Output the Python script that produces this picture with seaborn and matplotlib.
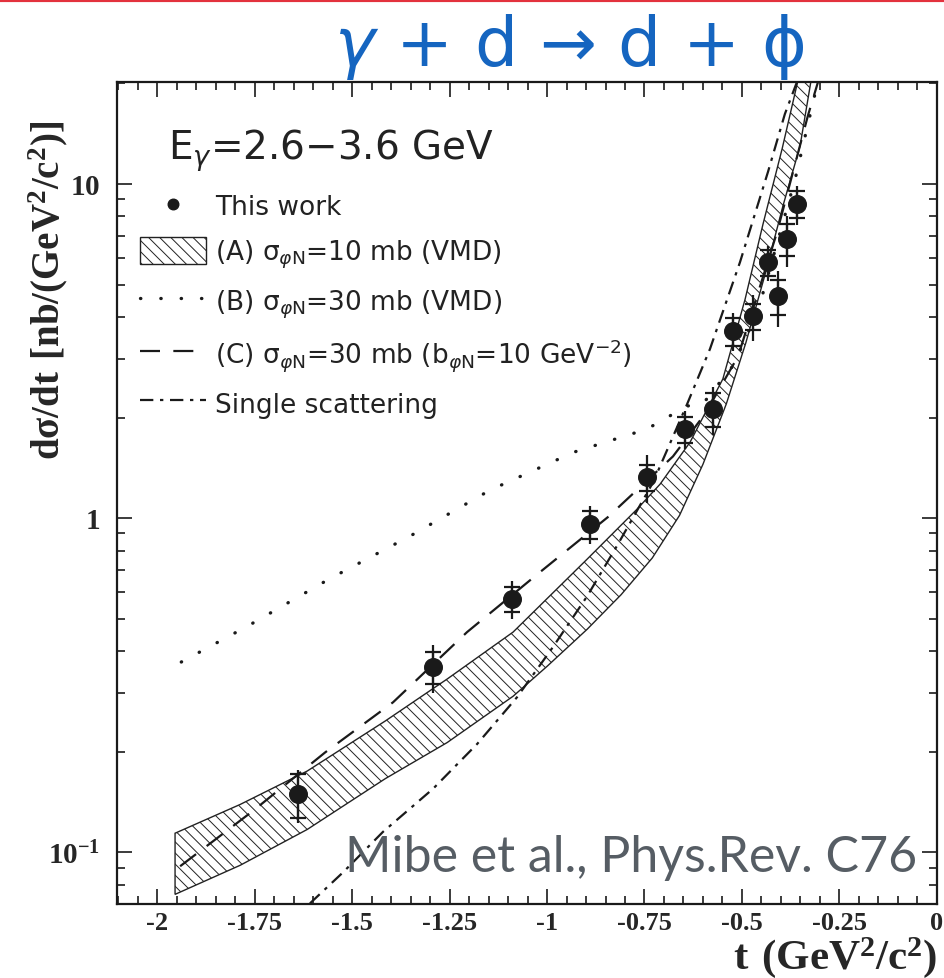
import numpy as np
import seaborn as sns
import matplotlib.pyplot as plt
from matplotlib.ticker import FixedLocator, FixedFormatter, LogLocator, NullFormatter

sns.set_theme(style="ticks")
plt.rcParams['font.family'] = ['Liberation Serif', 'DejaVu Sans']
plt.rcParams['mathtext.fontset'] = 'custom'
plt.rcParams['mathtext.bf'] = 'Liberation Serif:bold'
plt.rcParams['mathtext.rm'] = 'DejaVu Sans'
plt.rcParams['mathtext.it'] = 'DejaVu Sans:italic'
plt.rcParams['mathtext.sf'] = 'DejaVu Sans'
plt.rcParams['axes.unicode_minus'] = False
plt.rcParams['hatch.linewidth'] = 0.7

# measured points (this work)
t_data = [-1.638, -1.292, -1.090, -0.890, -0.744, -0.646, -0.574, -0.523, -0.472, -0.433, -0.408, -0.385, -0.359]
xs_data = [0.149, 0.358, 0.572, 0.960, 1.327, 1.847, 2.12, 3.63, 4.02, 5.84, 4.62, 6.85, 8.72]
err_stat = [0.15, 0.11, 0.085, 0.095, 0.09, 0.09, 0.115, 0.095, 0.09, 0.09, 0.12, 0.11, 0.09]
err_tot = [0.18, 0.165, 0.13, 0.13, 0.165, 0.13, 0.165, 0.13, 0.155, 0.12, 0.19, 0.175, 0.135]

# (A) band, upper and lower edges
band_up_t = [-1.954, -1.787, -1.615, -1.415, -1.256, -1.087, -0.897, -0.769, -0.710, -0.633, -0.549, -0.492, -0.446, -0.397, -0.354]
band_up_y = [0.114, 0.139, 0.175, 0.247, 0.330, 0.456, 0.754, 1.064, 1.264, 1.689, 2.61, 4.52, 7.59, 12.75, 21.0]
band_lo_t = [-1.954, -1.787, -1.615, -1.415, -1.256, -1.087, -1.000, -0.897, -0.810, -0.730, -0.660, -0.600, -0.540, -0.490, -0.440, -0.395, -0.351, -0.321]
band_lo_y = [0.0748, 0.0914, 0.117, 0.166, 0.213, 0.293, 0.360, 0.465, 0.590, 0.760, 1.02, 1.45, 2.20, 3.35, 5.40, 8.59, 13.0, 21.0]

# (B) dotted
b_t = [-1.938, -1.764, -1.559, -1.351, -1.146, -0.931, -0.744, -0.641, -0.600, -0.526, -0.490, -0.449, -0.364, -0.310]
b_y = [0.371, 0.478, 0.657, 0.884, 1.213, 1.576, 1.847, 2.165, 2.20, 2.83, 3.45, 4.59, 10.3, 19.2]

# (C) dashed
c_t = [-1.941, -1.754, -1.569, -1.395, -1.205, -1.031, -0.844, -0.677, -0.595, -0.510, -0.410, -0.331, -0.305]
c_y = [0.0908, 0.133, 0.199, 0.281, 0.456, 0.670, 1.007, 1.53, 2.05, 3.05, 7.18, 16.0, 20.2]

# single scattering, dash-dot
ss_t = [-1.608, -1.523, -1.421, -1.292, -1.179, -1.077, -0.985, -0.897, -0.818, -0.728, -0.641, -0.582, -0.505, -0.433, -0.390, -0.359]
ss_y = [0.0703, 0.0871, 0.115, 0.155, 0.211, 0.291, 0.411, 0.584, 0.836, 1.28, 2.19, 3.21, 5.84, 10.9, 16.2, 20.2]

x_ticks = [-2, -1.75, -1.5, -1.25, -1, -0.75, -0.5, -0.25, 0]
x_tick_labels = ['-2', '-1.75', '-1.5', '-1.25', '-1', '-0.75', '-0.5', '-0.25', '0']
y_ticks = [0.1, 1, 10]
y_tick_labels = [r'$\mathbf{10^{-1}}$', r'$\mathbf{1}$', r'$\mathbf{10}$']

sans = ['DejaVu Sans']

fig = plt.figure(figsize=(9.44, 9.79), dpi=100)
ax = fig.add_axes([0.1239, 0.0756, 0.8686, 0.8396])
ax.set_yscale('log')

band = ax.fill(np.concatenate([band_up_t, band_lo_t[::-1]]),
               np.concatenate([band_up_y, band_lo_y[::-1]]),
               facecolor='white', edgecolor='#222222', hatch='\\\\\\', lw=1.0, zorder=1)[0]

sns.lineplot(x=b_t, y=b_y, ax=ax, color='k', lw=2.4, linestyle=(0, (0.1, 6)),
             dash_capstyle='round', sort=False, estimator=None, zorder=2)
line_b = ax.lines[-1]
sns.lineplot(x=c_t, y=c_y, ax=ax, color='k', lw=1.6, linestyle=(0, (9, 6)),
             sort=False, estimator=None, zorder=2)
line_c = ax.lines[-1]
sns.lineplot(x=ss_t, y=ss_y, ax=ax, color='k', lw=1.6, linestyle=(0, (6, 3, 1.5, 3)),
             sort=False, estimator=None, zorder=2)
line_ss = ax.lines[-1]

xs = np.array(xs_data)
ax.errorbar(t_data, xs, yerr=xs * np.array(err_tot), fmt='none', ecolor='k',
            elinewidth=1.6, capsize=0, zorder=4)
ax.errorbar(t_data, xs, yerr=xs * np.array(err_stat), fmt='none', ecolor='k',
            elinewidth=1.6, capsize=6, capthick=1.6, zorder=4)
sns.scatterplot(x=t_data, y=xs_data, ax=ax, color='k', s=160, edgecolor='k', zorder=5)
dots = ax.collections[-1]

ax.set_xlim(-2.103, 0)
ax.set_ylim(0.0700, 20.2)

ax.xaxis.set_major_locator(FixedLocator(x_ticks))
ax.xaxis.set_major_formatter(FixedFormatter(x_tick_labels))
ax.xaxis.set_minor_locator(FixedLocator(np.arange(-2.10, 0.001, 0.05)))
ax.yaxis.set_major_locator(FixedLocator(y_ticks))
ax.yaxis.set_major_formatter(FixedFormatter(y_tick_labels))
ax.yaxis.set_minor_locator(LogLocator(base=10, subs=np.arange(2, 10)))
ax.yaxis.set_minor_formatter(NullFormatter())

ax.tick_params(which='both', direction='in', top=True, right=True, color='k', width=1.2)
ax.tick_params(which='major', length=11)
ax.tick_params(which='minor', length=6)
ax.tick_params(axis='x', labelsize=19, pad=5)
ax.tick_params(axis='y', labelsize=21, pad=12)
for lab in ax.get_xticklabels():
    lab.set_fontweight('bold')
for sp in ax.spines.values():
    sp.set_linewidth(1.6)
    sp.set_color('k')

ax.set_xlabel(r'$\mathbf{t\ (GeV^{2}/c^{2})}$', fontsize=31)
ax.xaxis.set_label_coords(1.0, -0.037)
ax.xaxis.label.set_ha('right')
ax.set_ylabel(r'$\mathbf{d\sigma/dt\ [nb/(GeV^{2}/c^{2})]}$', fontsize=28)
ax.yaxis.set_label_coords(-0.057, 0.747)

ax.text(0.062, 0.918, r'E$_{\gamma}$=2.6−3.6 GeV', transform=ax.transAxes,
        fontsize=28, family=sans, color='#222222', va='center')

ax.legend([dots, band, line_b, line_c, line_ss],
          ['This work',
           r'(A) σ$_{\varphi\mathsf{N}}$=10 mb (VMD)',
           r'(B) σ$_{\varphi\mathsf{N}}$=30 mb (VMD)',
           r'(C) σ$_{\varphi\mathsf{N}}$=30 mb (b$_{\varphi\mathsf{N}}$=10 GeV$^{-2}$)',
           'Single scattering'],
          loc='upper left', bbox_to_anchor=(0.028, 0.867), frameon=False,
          prop={'family': sans, 'size': 19},
          handlelength=2.5, handleheight=1.25, handletextpad=0.35,
          labelspacing=0.62, borderpad=0, borderaxespad=0, markerscale=0.6,
          labelcolor='#222222')

fig.text(0.972, 0.109, 'Mibe et al., Phys.Rev. C76', ha='right', va='baseline',
         fontsize=36, family=['Lato', 'DejaVu Sans'], color='#565d64')

fig.text(0.603, 0.952, r'$\gamma$ + d → d + ϕ', ha='center', va='center',
         fontsize=49, family=sans, color='#1565c0')

fig.add_artist(plt.Line2D([0, 1], [0.9985, 0.9985], transform=fig.transFigure,
                          color='#e3323d', lw=3))

fig.savefig('out.png', dpi=100)
